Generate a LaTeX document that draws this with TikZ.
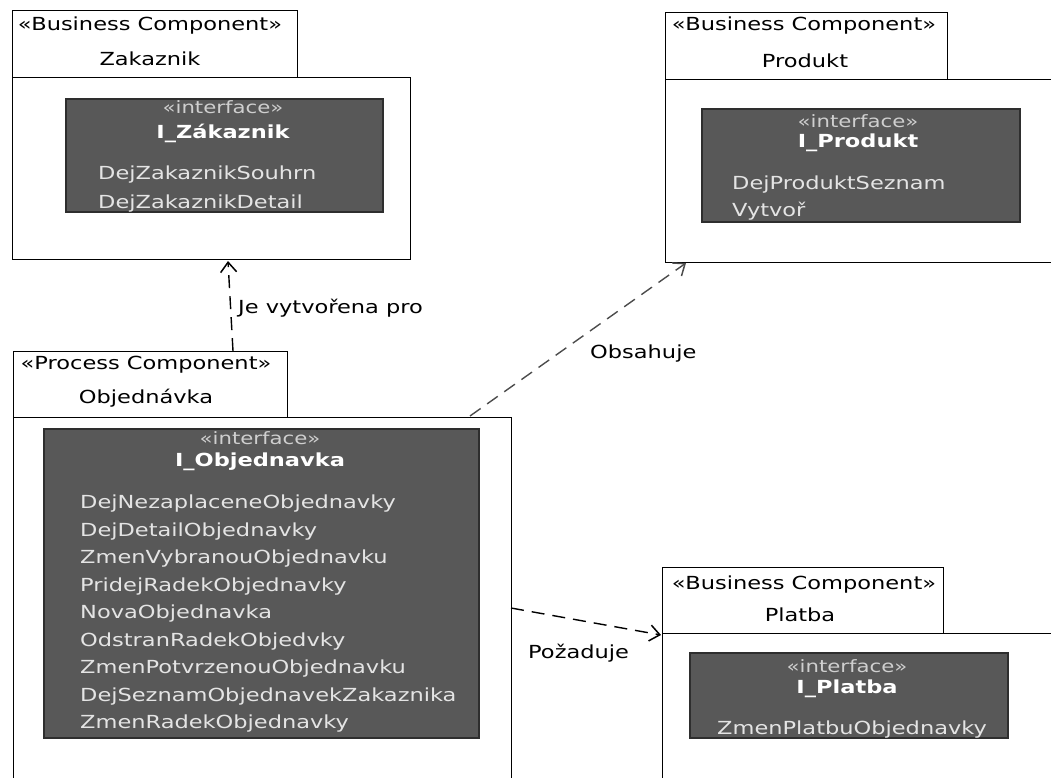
\documentclass[tikz,border=0pt]{standalone}
\usepackage{fontspec}
\setmainfont{DejaVu Sans}
\newfontfamily\umlfont[FakeStretch=1.25]{DejaVu Sans}
\usetikzlibrary{arrows.meta}
\definecolor{ifacefill}{HTML}{585858}
\definecolor{ifaceline}{HTML}{2E2E2E}
\definecolor{membertext}{HTML}{E4E4E4}
\definecolor{stereotext}{HTML}{CFCFCF}
\begin{document}
\begin{tikzpicture}[x=1pt,y=-1pt,
  frame/.style={draw=black,line width=1.4pt,fill=white,inner sep=0pt,anchor=north west},
  iface/.style={draw=ifaceline,line width=1.6pt,fill=ifacefill,inner sep=0pt,anchor=north west},
  headtext/.style={font=\umlfont\fontsize{18}{21}\selectfont,text=black,inner sep=0pt,anchor=base},
  istereo/.style={font=\umlfont\fontsize{17}{20}\selectfont,text=stereotext,inner sep=0pt,anchor=base},
  iname/.style={font=\umlfont\bfseries\fontsize{18}{21}\selectfont,text=white,inner sep=0pt,anchor=base},
  member/.style={font=\umlfont\fontsize{18}{21}\selectfont,text=membertext,inner sep=0pt,anchor=base west},
  linklabel/.style={font=\umlfont\fontsize{18}{21}\selectfont,text=black,inner sep=0pt,anchor=base west},
  dep/.style={line width=1.4pt,dash pattern=on 13pt off 8pt,-{Straight Barb[length=10pt,width=16pt,line width=1.5pt]}},
]
\useasboundingbox (0,0) rectangle (1051,777);
\fill[white] (0,0) rectangle (1051,777);
\clip (0,0) rectangle (1051,777);

% ---------- Zakaznik ----------
\node[frame,minimum width=398pt,minimum height=182pt] (zakBody) at (12,77) {};
\node[frame,minimum width=285pt,minimum height=67pt] (zakTab) at (12,10) {};
\node[headtext] (zakStereo) at (150,30) {«Business Component»};
\node[headtext] (zakName) at (150,65) {Zakaznik};
\node[iface,minimum width=317pt,minimum height=113pt] (zakIf) at (65,98) {};
\node[istereo] (zakIfSt) at (223,113) {«interface»};
\node[iname] (zakIfName) at (223,138) {I\_Zákaznik};
\node[member] (zakM1) at (98,179.5) {DejZakaznikSouhrn};
\node[member] (zakM2) at (98,208.5) {DejZakaznikDetail};

% ---------- Produkt ----------
\node[frame,minimum width=420pt,minimum height=183pt] (proBody) at (665,79) {};
\node[frame,minimum width=282pt,minimum height=67pt] (proTab) at (665,12) {};
\node[headtext] (proStereo) at (804,30) {«Business Component»};
\node[headtext] (proName) at (805,67) {Produkt};
\node[iface,minimum width=318pt,minimum height=113pt] (proIf) at (701,108) {};
\node[istereo] (proIfSt) at (858,127) {«interface»};
\node[iname] (proIfName) at (858,147) {I\_Produkt};
\node[member] (proM1) at (732,189.5) {DejProduktSeznam};
\node[member] (proM2) at (732,216.5) {Vytvoř};

% ---------- Objednavka ----------
\node[frame,minimum width=498pt,minimum height=420pt] (objBody) at (13,417) {};
\node[frame,minimum width=274pt,minimum height=66pt] (objTab) at (13,351) {};
\node[headtext] (objStereo) at (146,369) {«Process Component»};
\node[headtext] (objName) at (146,403) {Objednávka};
\node[iface,minimum width=435pt,minimum height=309pt] (objIf) at (43,428) {};
\node[istereo] (objIfSt) at (260,444) {«interface»};
\node[iname] (objIfName) at (260,466) {I\_Objednavka};
\node[member] (objM1) at (80,508.5) {DejNezaplaceneObjednavky};
\node[member] (objM2) at (80,536) {DejDetailObjednavky};
\node[member] (objM3) at (80,563.5) {ZmenVybranouObjednavku};
\node[member] (objM4) at (80,591) {PridejRadekObjednavky};
\node[member] (objM5) at (80,618.5) {NovaObjednavka};
\node[member] (objM6) at (80,646) {OdstranRadekObjedvky};
\node[member] (objM7) at (80,673.5) {ZmenPotvrzenouObjednavku};
\node[member] (objM8) at (80,701) {DejSeznamObjednavekZakaznika};
\node[member] (objM9) at (80,728.5) {ZmenRadekObjednavky};

% ---------- Platba ----------
\node[frame,minimum width=420pt,minimum height=200pt] (plaBody) at (662,633) {};
\node[frame,minimum width=281pt,minimum height=66pt] (plaTab) at (662,567) {};
\node[headtext] (plaStereo) at (804,589) {«Business Component»};
\node[headtext] (plaName) at (800,621) {Platba};
\node[iface,minimum width=318pt,minimum height=85pt] (plaIf) at (689,652) {};
\node[istereo] (plaIfSt) at (847,672) {«interface»};
\node[iname] (plaIfName) at (847,693) {I\_Platba};
\node[member] (plaM1) at (717,734.5) {ZmenPlatbuObjednavky};

% ---------- dependencies ----------
\coordinate (jeFrom) at (233,351);
\coordinate (jeTo) at (228,261);
\coordinate (obFrom) at (470,416);
\coordinate (obTo) at (686,263);
\coordinate (poFrom) at (511,608);
\coordinate (poTo) at (661,635);
\draw[dep] (jeFrom) -- (jeTo);
\draw[dep,draw=black!70] (obFrom) -- (obTo);
\draw[dep] (poFrom) -- (poTo);
\node[linklabel] (jeLabel) at (238,313) {Je vytvořena pro};
\node[linklabel] (obLabel) at (590,358) {Obsahuje};
\node[linklabel] (poLabel) at (528,658) {Požaduje};
\end{tikzpicture}
\end{document}
